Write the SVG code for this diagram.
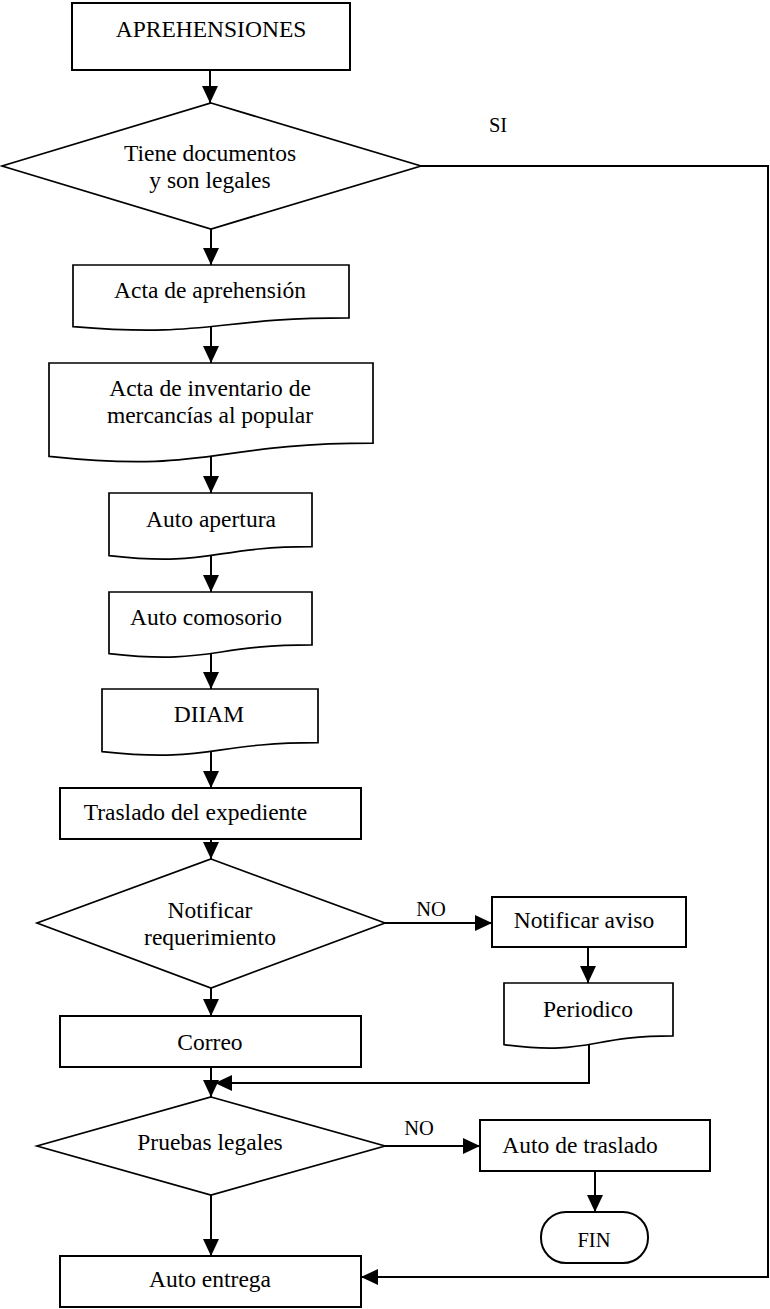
<svg xmlns="http://www.w3.org/2000/svg" width="770" height="1309" viewBox="0 0 770 1309">
<style>
.box{fill:#fff;stroke:#000;stroke-width:2}
.shp{fill:#fff;stroke:#000;stroke-width:1.7}
.t{font-family:"Liberation Serif","Times New Roman",serif;font-size:23.5px;fill:#000;text-anchor:middle}
.s{font-family:"Liberation Serif","Times New Roman",serif;font-size:20.5px;fill:#000;text-anchor:middle}
.c{fill:none;stroke:#000;stroke-width:2}
</style>
<defs>
<marker id="arr" markerWidth="17" markerHeight="16" refX="17" refY="8" orient="auto" markerUnits="userSpaceOnUse">
<path d="M0,0 L17,8 L0,16 z" fill="#000"/>
</marker>
</defs>
<rect width="770" height="1309" fill="#fff"/>
<g id="connectors">
<line class="c" x1="210" y1="70" x2="210" y2="103" marker-end="url(#arr)"/>
<line class="c" x1="211" y1="229" x2="211" y2="265" marker-end="url(#arr)"/>
<line class="c" x1="211" y1="327" x2="211" y2="363" marker-end="url(#arr)"/>
<line class="c" x1="211" y1="456" x2="211" y2="493" marker-end="url(#arr)"/>
<line class="c" x1="211" y1="556" x2="211" y2="592" marker-end="url(#arr)"/>
<line class="c" x1="211" y1="654" x2="211" y2="689" marker-end="url(#arr)"/>
<line class="c" x1="211" y1="752" x2="211" y2="788" marker-end="url(#arr)"/>
<line class="c" x1="211" y1="839" x2="211" y2="859" marker-end="url(#arr)"/>
<line class="c" x1="211" y1="988" x2="211" y2="1016" marker-end="url(#arr)"/>
<line class="c" x1="385" y1="923" x2="492" y2="923" marker-end="url(#arr)"/>
<line class="c" x1="588" y1="947" x2="588" y2="983" marker-end="url(#arr)"/>
<polyline class="c" points="589,1045 589,1083 215,1083" marker-end="url(#arr)"/>
<line class="c" x1="211" y1="1067" x2="211" y2="1097" marker-end="url(#arr)"/>
<line class="c" x1="385" y1="1146" x2="480" y2="1146" marker-end="url(#arr)"/>
<line class="c" x1="595" y1="1171" x2="595" y2="1212" marker-end="url(#arr)"/>
<line class="c" x1="211" y1="1195" x2="211" y2="1256" marker-end="url(#arr)"/>
<polyline class="c" points="421,166 768,166 768,1277 361,1277" marker-end="url(#arr)"/>
<text class="s" x="498" y="132">SI</text>
<text class="s" x="431" y="916">NO</text>
<text class="s" x="419" y="1135">NO</text>
</g>
<g id="aprehensiones">
<rect class="box" x="72" y="3" width="278" height="67"/>
<text class="t" x="211" y="37">APREHENSIONES</text>
</g>
<g id="tiene-documentos">
<polygon class="shp" points="211,103 421,166 211,229 2,166"/>
<text class="t" x="210" y="161">Tiene documentos</text>
<text class="t" x="210" y="188">y son legales</text>
</g>
<g id="acta-aprehension">
<path class="shp" d="M73,265 H349 V317.9 C211,317.9 211,338.1 73,326.6 Z"/>
<text class="t" x="210" y="298">Acta de aprehensión</text>
</g>
<g id="acta-inventario">
<path class="shp" d="M49,363 H373 V443.2 C211,443.2 211,473.75 49,456.4 Z"/>
<text class="t" x="210" y="396">Acta de inventario de</text>
<text class="t" x="210" y="423">mercancías al popular</text>
</g>
<g id="auto-apertura">
<path class="shp" d="M109,493 H312 V546.7 C210.5,546.7 210.5,567.2 109,555.6 Z"/>
<text class="t" x="211" y="527">Auto apertura</text>
</g>
<g id="auto-comosorio">
<path class="shp" d="M109,592 H312 V644.9 C210.5,644.9 210.5,665.1 109,653.6 Z"/>
<text class="t" x="206" y="625">Auto comosorio</text>
</g>
<g id="diiam">
<path class="shp" d="M102,689 H318 V742.7 C210,742.7 210,763.2 102,751.6 Z"/>
<text class="t" x="209" y="722">DIIAM</text>
</g>
<g id="traslado-expediente">
<rect class="box" x="60" y="788" width="301" height="51"/>
<text class="t" x="195.5" y="820">Traslado del expediente</text>
</g>
<g id="notificar-requerimiento">
<polygon class="shp" points="211,859 385,923 211,988 37,923"/>
<text class="t" x="210" y="918">Notificar</text>
<text class="t" x="210" y="945">requerimiento</text>
</g>
<g id="notificar-aviso">
<rect class="box" x="492" y="897" width="194" height="50"/>
<text class="t" x="584" y="928">Notificar aviso</text>
</g>
<g id="periodico">
<path class="shp" d="M504,983 H673 V1035.9 C588.5,1035.9 588.5,1056.1 504,1044.6 Z"/>
<text class="t" x="588" y="1017">Periodico</text>
</g>
<g id="correo">
<rect class="box" x="60" y="1016" width="301" height="51"/>
<text class="t" x="210" y="1050">Correo</text>
</g>
<g id="pruebas-legales">
<polygon class="shp" points="211,1097 385,1146 211,1195 37,1146"/>
<text class="t" x="210" y="1150">Pruebas legales</text>
</g>
<g id="auto-traslado">
<rect class="box" x="480" y="1120" width="230" height="51"/>
<text class="t" x="580" y="1153">Auto de traslado</text>
</g>
<g id="fin">
<rect class="box" x="541" y="1212" width="107" height="51" rx="25" ry="25"/>
<text class="s" x="594" y="1247">FIN</text>
</g>
<g id="auto-entrega">
<rect class="box" x="60" y="1256" width="301" height="51"/>
<text class="t" x="210" y="1287">Auto entrega</text>
</g>
</svg>
